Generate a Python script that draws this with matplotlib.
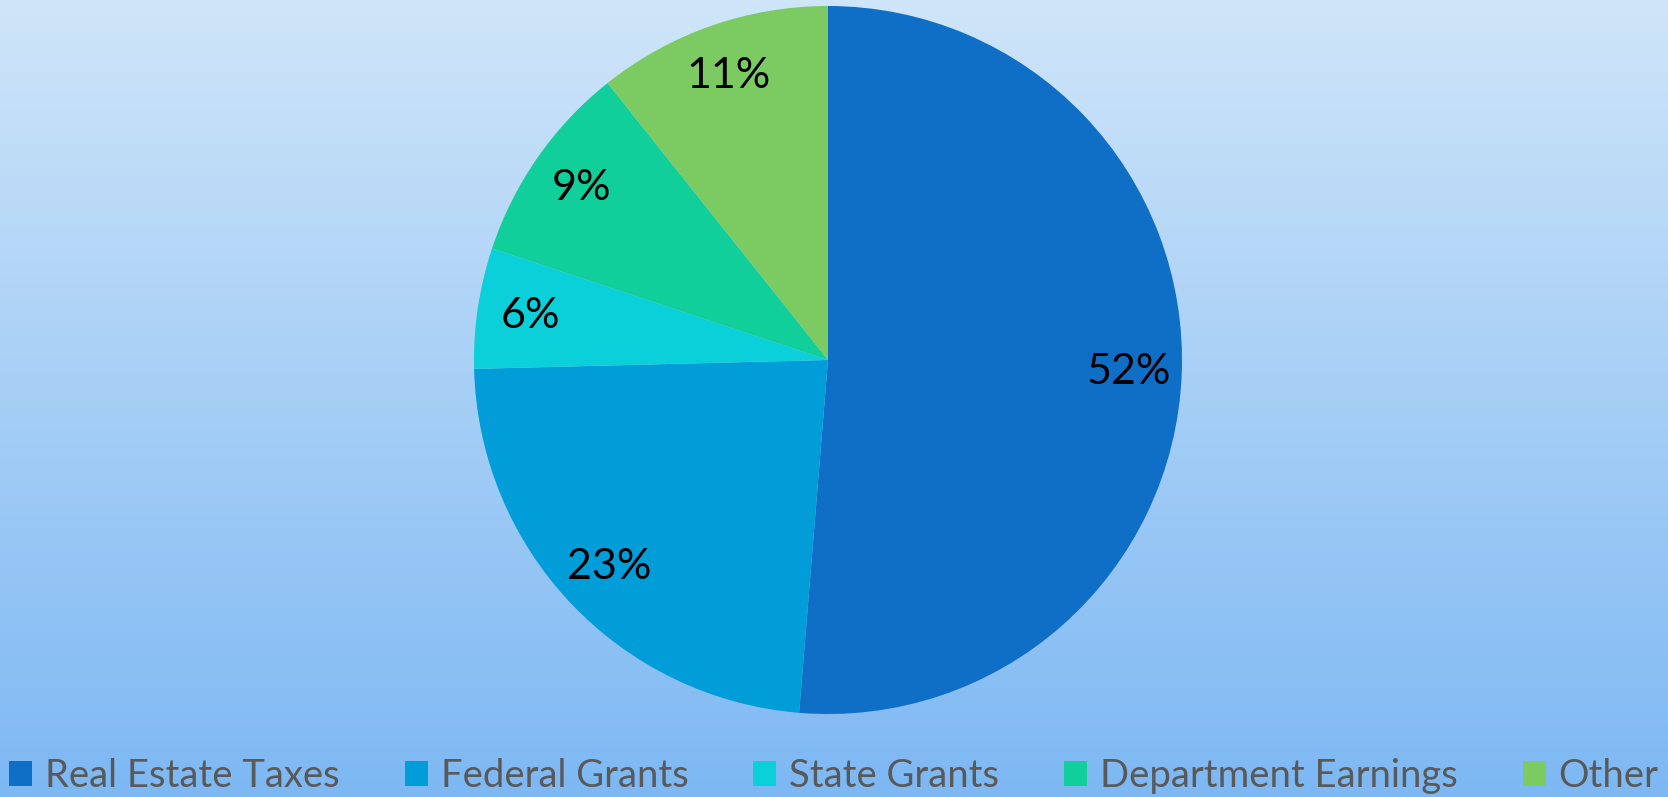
import numpy as np
import matplotlib
matplotlib.use("Agg")
import matplotlib.pyplot as plt
from matplotlib.patches import Patch

categories = ["Real Estate Taxes", "Federal Grants", "State Grants", "Department Earnings", "Other"]
values = [51.3, 23.3, 5.5, 9.2, 10.7]
pct_labels = ["52%", "23%", "6%", "9%", "11%"]
colors = ["#0f6fc6", "#009dd9", "#0bd0d9", "#10cf9b", "#7cca62"]

plt.rcParams['font.family'] = ['Lato', 'DejaVu Sans']

W, H = 1668, 797
fig = plt.figure(figsize=(W / 100, H / 100), dpi=100)

# background gradient
bg = fig.add_axes([0, 0, 1, 1], zorder=0)
top = np.array([0xcf, 0xe5, 0xf9]) / 255
bot = np.array([0x7d, 0xb8, 0xf3]) / 255
t = np.linspace(0, 1, 256)[:, None]
grad = top[None, :] * (1 - t) + bot[None, :] * t
bg.imshow(grad[:, None, :].repeat(2, axis=1), aspect='auto', extent=[0, 1, 0, 1])
bg.set_axis_off()

cx, cy, r = 828 / W, (H - 360) / H, 354
ax = fig.add_axes([cx - r / W, cy - r / H, 2 * r / W, 2 * r / H], zorder=1)
ax.patch.set_alpha(0)
wedges, texts, autotexts = ax.pie(values, colors=colors, startangle=90, counterclock=False,
                                  autopct='%.0f%%', pctdistance=0.85,
                                  wedgeprops=dict(linewidth=0),
                                  textprops=dict(fontsize=31, color='black'))
for at, lab in zip(autotexts, pct_labels):
    at.set_text(lab)
ax.set_xlim(-1, 1)
ax.set_ylim(-1, 1)
ax.set_axis_off()

handles = [Patch(facecolor=c, edgecolor='none') for c in colors]
leg = fig.legend(handles, categories, loc='center', bbox_to_anchor=(0.5, 21 / H), ncol=5,
                 frameon=False, fontsize=27.5, handlelength=0.6, handleheight=0.6,
                 handletextpad=0.34, columnspacing=1.7, labelcolor='#595959',
                 borderaxespad=0, borderpad=0)

fig.savefig("out.png", dpi=100)
